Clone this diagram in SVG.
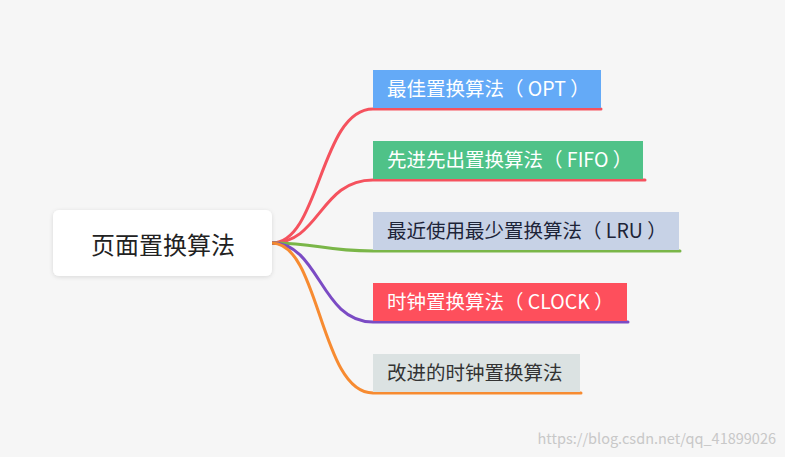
<svg xmlns="http://www.w3.org/2000/svg" width="785" height="457" viewBox="0 0 785 457">
<defs><filter id="sh" x="-10%" y="-20%" width="120%" height="140%"><feDropShadow dx="0" dy="1" stdDeviation="2" flood-color="#000" flood-opacity="0.12"/></filter></defs>
<style>
text{font-family:"Noto Sans CJK SC","Noto Sans",sans-serif}
.t{font-size:19.5px}
.c{fill:none;stroke-width:3;stroke-linecap:round}
</style>
<rect width="785" height="457" fill="#f6f6f6"/>
<g id="connectors">
<path class="c" stroke="#f5525e" d="M272,243 C320,243 320,109 373,109 H601"/>
<path class="c" stroke="#f5525e" d="M272,243 C320,243 320,180 373,180 H645"/>
<path class="c" stroke="#7ab648" d="M272,243 C320,243 320,251 373,251 H680"/>
<path class="c" stroke="#7b4bc4" d="M272,243 C320,243 320,322 373,322 H628"/>
<path class="c" stroke="#f78b31" d="M272,243 C320,243 320,393 373,393 H581"/>
</g>
<g id="root"><rect x="53" y="210" width="219" height="66" rx="6" fill="#fff" filter="url(#sh)"/><text x="163" y="254" text-anchor="middle" font-size="24" fill="#222">页面置换算法</text></g>
<g id="n1"><rect x="373" y="70" width="228" height="38" fill="#64aaf7"/><text class="t" x="387" y="96" fill="#fff">最佳置换算法（ OPT ）</text></g>
<g id="n2"><rect x="373" y="141" width="270" height="38" fill="#4fc288"/><text class="t" x="387" y="167" fill="#fff">先进先出置换算法（ FIFO ）</text></g>
<g id="n3"><rect x="373" y="212" width="306" height="38" fill="#c7d2e6"/><text class="t" x="387" y="238" fill="#1d2438">最近使用最少置换算法（ LRU ）</text></g>
<g id="n4"><rect x="373" y="283" width="254" height="38" fill="#fe4f5c"/><text class="t" x="387" y="309" fill="#fff">时钟置换算法（ CLOCK ）</text></g>
<g id="n5"><rect x="373" y="354" width="207" height="38" fill="#dbe2e2"/><text class="t" x="387" y="380" fill="#333">改进的时钟置换算法</text></g>
<text x="776" y="444" text-anchor="end" font-size="14.5" fill="#c8c8c8">https://blog.csdn.net/qq_41899026</text>
</svg>
